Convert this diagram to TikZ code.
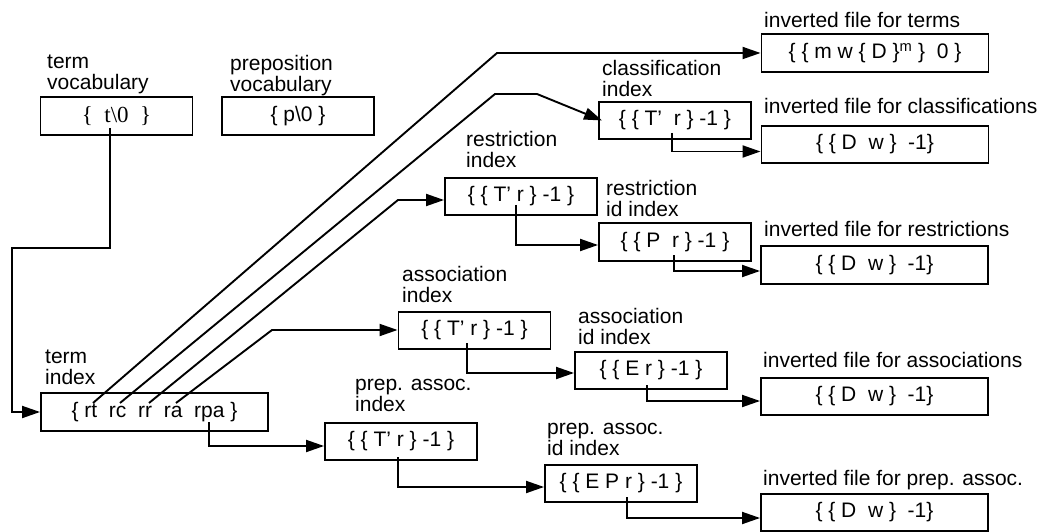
\documentclass[tikz,border=0pt]{standalone}
\usepackage{fontspec}
\setmainfont{Liberation Sans}
\newfontfamily\serifface{Liberation Serif}
\usetikzlibrary{arrows.meta}
\newcommand\txtsize{\fontsize{21}{21.5}\selectfont}

\begin{document}
\begin{tikzpicture}[x=1pt,y=-1pt,
  box/.style={draw, line width=1.9pt, minimum width=152pt, minimum height=37.5pt,
              inner sep=0pt, font=\txtsize},
  filebox/.style={box, minimum width=227pt},
  lbl/.style={anchor=south west, inner sep=0pt, text depth=0pt, align=left, font=\txtsize},
  link/.style={line width=1.9pt},
  arr/.style={link, -{Triangle[length=18pt,width=12pt]}},
]
\useasboundingbox (0,0) rectangle (1045,532);

% vocabularies
\node[box] (tv) at (116.5,116) {\serifface\fontsize{23}{23}\selectfont\{~ t\textbackslash 0~ \}};
\node[box] (pv) at (298,116) {\{ p\textbackslash 0 \}};
\node[lbl] (tv-l) at (47,90) {term\\vocabulary};
\node[lbl] (pv-l) at (230,92) {preposition\\vocabulary};

% term index
\node[box, minimum width=227pt] (ti) at (154.5,412) {\{ rt~ rc~ rr~ ra~ rpa \}};
\node[lbl] (ti-l) at (45,385) {term\\index};

% secondary indexes
\node[box] (ci)  at (675,120.5) {\{ \{ T’~ r \} -1 \}};
\node[box] (ri)  at (521,196.5) {\{ \{ T’ r \} -1 \}};
\node[box] (rii) at (675,242)   {\{ \{ P~ r \} -1 \}};
\node[box] (ai)  at (474.5,330.5) {\{ \{ T’ r \} -1 \}};
\node[box] (aii) at (651,370.5) {\{ \{ E r \} -1 \}};
\node[box] (pi)  at (401,441.5) {\{ \{ T’ r \} -1 \}};
\node[box] (pii) at (621,483.5) {\{ \{ E P r \} -1 \}};

\node[lbl] (ci-l)  at (602,97)  {classification\\index};
\node[lbl] (ri-l)  at (466,168) {restriction\\index};
\node[lbl] (rii-l) at (606,217) {restriction\\id index};
\node[lbl] (ai-l)  at (402,303) {association\\index};
\node[lbl] (aii-l) at (578,345) {association\\id index};
\node[lbl] (pi-l)  at (355,412) {prep. assoc.\\index};
\node[lbl] (pii-l) at (547,456) {prep. assoc.\\id index};

% inverted files
\node[filebox] (ift) at (875,53)      {\{ \{ m w \{ D \}\textsuperscript{m} \}~ 0 \}};
\node[filebox] (ifc) at (875,144.5)   {\{ \{ D~ w \}~ -1\}};
\node[filebox] (ifr) at (874.5,265)   {\{ \{ D~ w \}~ -1\}};
\node[filebox] (ifa) at (874.5,396.5) {\{ \{ D~ w \}~ -1\}};
\node[filebox] (ifp) at (874.5,512.5) {\{ \{ D~ w \}~ -1\}};

\node[lbl] (ift-l) at (764,28)  {inverted file for terms};
\node[lbl] (ifc-l) at (764,114) {inverted file for classifications};
\node[lbl] (ifr-l) at (764,237) {inverted file for restrictions};
\node[lbl] (ifa-l) at (763,368) {inverted file for associations};
\node[lbl] (ifp-l) at (763,486) {inverted file for prep. assoc.};

% connector end points and bends
\coordinate (tv-t) at (110,128);
\coordinate (loopA) at (12,248);
\coordinate (ti-rt) at (93,403);
\coordinate (ti-rc) at (120,403);
\coordinate (ti-rr) at (149,403);
\coordinate (ti-ra) at (176,403);
\coordinate (ti-rpa) at (209,422);
\coordinate (rt-bend) at (497,53);
\coordinate (rc-bend1) at (495,94);
\coordinate (rc-bend2) at (537,94);
\coordinate (rr-bend) at (398,200);
\coordinate (ra-bend) at (272,330);
\coordinate (ci-r)  at (672,133);
\coordinate (ri-r)  at (516,205);
\coordinate (rii-r) at (674,255);
\coordinate (ai-r)  at (467,343);
\coordinate (aii-r) at (647,385);
\coordinate (pi-r)  at (398,457);
\coordinate (pii-r) at (627,497);

% vocabulary to term index
\draw[arr] (tv-t) |- (loopA) |- (ti.west);

% term index to the indexes
\draw[arr] (ti-rt) -- (rt-bend) -- (rt-bend -| ift.west);
\draw[arr] (ti-rc) -- (rc-bend1) -- (rc-bend2) -- ([xshift=4pt]ci.west);
\draw[arr] (ti-rr) -- (rr-bend) -- (rr-bend -| ri.west);
\draw[arr] (ti-ra) -- (ra-bend) -- (ra-bend -| ai.west);
\draw[arr] (ti-rpa) |- ([yshift=-4.5pt]pi.west);

% index chains
\draw[arr] (ci-r)  |- ([yshift=-7pt]ifc.west);
\draw[arr] (ri-r)  |- ([yshift=-3pt]rii.west);
\draw[arr] (rii-r) |- ([yshift=-6pt]ifr.west);
\draw[arr] (ai-r)  |- ([yshift=-2.5pt]aii.west);
\draw[arr] (aii-r) |- ([yshift=-4.5pt]ifa.west);
\draw[arr] (pi-r)  |- ([yshift=-3.5pt]pii.west);
\draw[arr] (pii-r) |- ([yshift=-5.5pt]ifp.west);
\end{tikzpicture}
\end{document}
